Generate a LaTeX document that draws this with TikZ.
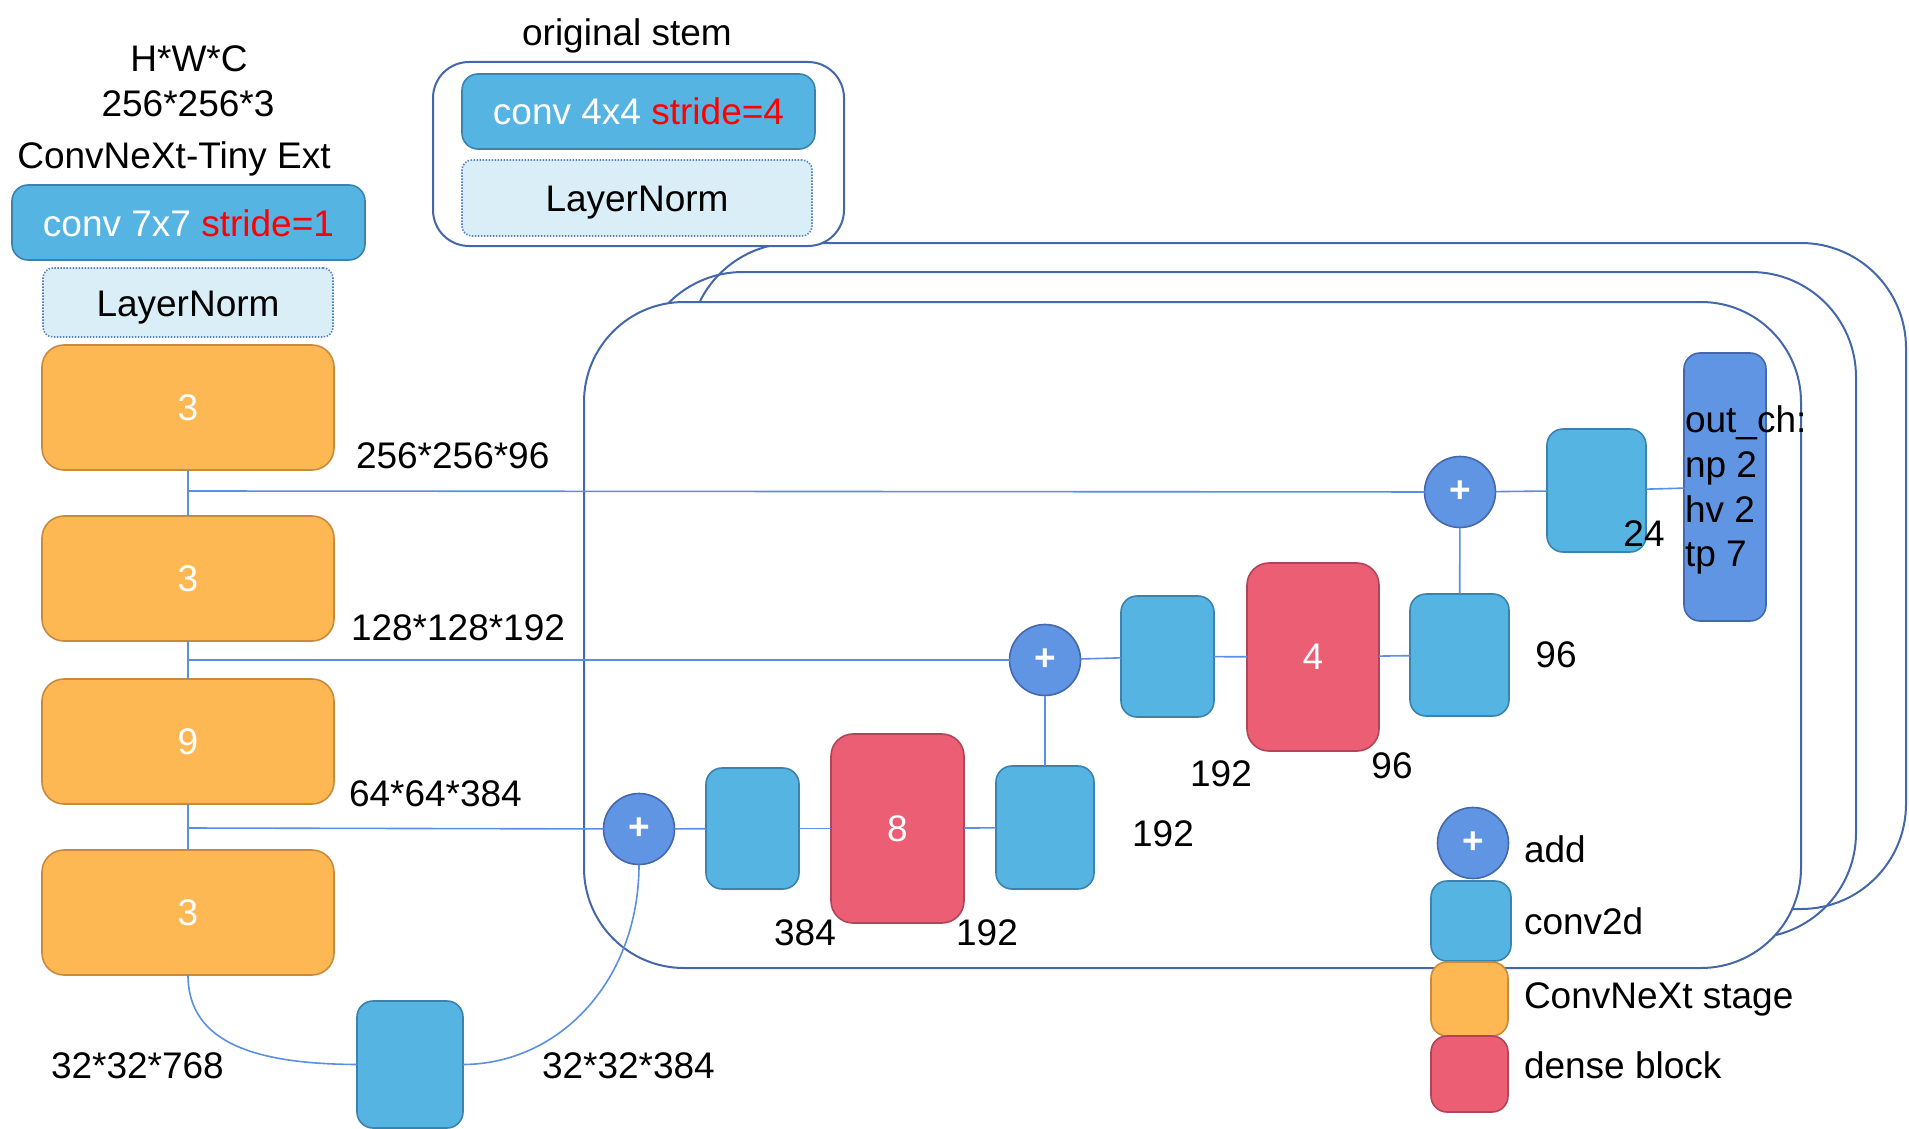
\documentclass[tikz,border=0pt]{standalone}
\usepackage{fontspec}
\setmainfont{Liberation Sans}
\definecolor{convfill}{HTML}{56B4E3}
\definecolor{convdraw}{HTML}{3A83AE}
\definecolor{stfill}{HTML}{FDB854}
\definecolor{stdraw}{HTML}{C98A3C}
\definecolor{dnfill}{HTML}{EB5E73}
\definecolor{dndraw}{HTML}{B0455A}
\definecolor{addfill}{HTML}{5F95E3}
\definecolor{adddraw}{HTML}{4567AE}
\definecolor{lnfill}{HTML}{DAEEF8}
\definecolor{lndraw}{HTML}{5A86C6}
\definecolor{framec}{HTML}{4467A9}
\definecolor{connc}{HTML}{5B8FE2}
\definecolor{strc}{HTML}{FF0000}
\tikzset{
  every node/.style={font=\fontsize{37}{45}\selectfont, inner sep=0pt, outer sep=0pt},
  box/.style={draw, line width=1.6pt, rounded corners=16pt},
  conv/.style={box, fill=convfill, draw=convdraw},
  stage/.style={box, fill=stfill, draw=stdraw, rounded corners=22pt, text=white},
  dense/.style={box, fill=dnfill, draw=dndraw, rounded corners=22pt, text=white},
  addop/.style={circle, draw=adddraw, fill=addfill, line width=1.6pt, minimum size=71pt, text=white, font=\fontsize{37}{45}\selectfont\bfseries},
  outbox/.style={box, fill=addfill, draw=adddraw},
  lnorm/.style={box, fill=lnfill, draw=lndraw, dash pattern=on 1.5pt off 1.5pt, rounded corners=10pt},
  lbl/.style={text height=27pt, text depth=0pt},
  conn/.style={draw=connc, line width=1.6pt},
  framebox/.style={draw=framec, line width=2pt, rounded corners=105pt},
  sz/.style 2 args={minimum width=#1, minimum height=#2},
}
\begin{document}
\begin{tikzpicture}[x=1pt,y=-1pt]
\useasboundingbox (0,0) rectangle (1909,1129);
% stacked frames
\draw[framebox] (689,243) rectangle (1906,909);
\draw[framebox] (638,272) rectangle (1856,938);
\draw[framebox, fill=white, rounded corners=100pt] (584,302) rectangle (1801,968);
% original stem box
\draw[framebox, fill=white, rounded corners=36pt] (433,62) rectangle (844,246);
\node[lbl] (stemt) at (627,32) {original stem};
\node[conv, lbl, sz={353}{75}, text=white] (c4) at (638.5,111.5) {conv 4x4 {\color{strc}stride=4}};
\node[lnorm, lbl, sz={350}{76}] (ln2) at (637,198) {LayerNorm};
% left column
\node[lbl] (t1) at (189,58) {H*W*C};
\node[lbl] (t2) at (188,103) {256*256*3};
\node[lbl] (t3) at (174,155) {ConvNeXt-Tiny Ext};
\node[conv, lbl, sz={353}{75}, text=white] (c7) at (188.5,222.5) {conv 7x7 {\color{strc}stride=1}};
\node[lnorm, lbl, sz={290}{69}] (ln1) at (188,302.5) {LayerNorm};
\node[stage, sz={292}{125}] (s1) at (188,407.5) {3};
\node[stage, sz={292}{125}] (s2) at (188,578.5) {3};
\node[stage, sz={292}{125}] (s3) at (188,741.5) {9};
\node[stage, sz={292}{125}] (s4) at (188,912.5) {3};
\node[lbl, anchor=west] (l1) at (356,455) {256*256*96};
\node[lbl, anchor=west] (l2) at (351,627) {128*128*192};
\node[lbl, anchor=west] (l3) at (349,793) {64*64*384};
\node[lbl, anchor=west] (l4) at (51,1065) {32*32*768};
\node[lbl, anchor=west] (l5) at (542,1065) {32*32*384};
\node[conv, sz={106}{127}] (bc) at (410,1064.5) {};
\coordinate (j1) at (188,491);
\coordinate (j2) at (188,660);
\coordinate (j3) at (188,828);
% decoder
\node[addop] (p1) at (639,829) {+};
\node[conv, sz={93}{121}] (cA) at (752.5,828.5) {};
\node[dense, sz={133}{189}] (d8) at (897.5,828.5) {8};
\node[conv, sz={98}{123}] (cB) at (1045,827.5) {};
\node[lbl] (n384) at (805,932) {384};
\node[lbl] (n192a) at (987,932) {192};
\node[lbl] (n192b) at (1163,833) {192};
\node[addop] (p2) at (1045,660) {+};
\node[conv, sz={93}{121}] (cC) at (1167.5,656.5) {};
\node[dense, sz={132}{188}] (d4) at (1313,657) {4};
\node[conv, sz={99}{122}] (cD) at (1459.5,655) {};
\node[lbl] (n192c) at (1221,773) {192};
\node[lbl] (n96a) at (1392,765) {96};
\node[lbl] (n96b) at (1556,654) {96};
\node[addop] (p3) at (1460,492) {+};
\node[conv, sz={99}{123}] (cE) at (1596.5,490.5) {};
\node[outbox, sz={82}{268}] (out) at (1725,487) {};
\node[lbl] (n24) at (1644,533) {24};
\node[lbl, anchor=west] (o1) at (1685,419) {out\_ch:};
\node[lbl, anchor=west] (o2) at (1685,464) {np 2};
\node[lbl, anchor=west] (o3) at (1685,509) {hv 2};
\node[lbl, anchor=west] (o4) at (1685,553) {tp 7};
% legend
\node[addop] (lp) at (1473,843) {+};
\node[conv, sz={80}{80}] (lc) at (1471,921) {};
\node[stage, sz={77}{74}, rounded corners=16pt] (lo) at (1469.5,999) {};
\node[dense, sz={77}{76}, rounded corners=16pt] (lr) at (1469.5,1074) {};
\node[lbl, anchor=west] (la) at (1524,849) {add};
\node[lbl, anchor=west] (lb) at (1524,921) {conv2d};
\node[lbl, anchor=west] (lcn) at (1524,995) {ConvNeXt stage};
\node[lbl, anchor=west] (ld) at (1524,1065) {dense block};
% connectors
\draw[conn] (s1) -- (s2);
\draw[conn] (s2) -- (s3);
\draw[conn] (s3) -- (s4);
\draw[conn] (j1) -- (p3);
\draw[conn] (j2) -- (p2);
\draw[conn] (j3) -- (p1);
\draw[conn] (p1) -- (cA);
\draw[conn] (cA) -- (d8);
\draw[conn] (d8) -- (cB);
\draw[conn] (cB) -- (p2);
\draw[conn] (p2) -- (cC);
\draw[conn] (cC) -- (d4);
\draw[conn] (d4) -- (cD);
\draw[conn] (cD) -- (p3);
\draw[conn] (p3) -- (cE);
\draw[conn] (cE) -- (out);
\draw[conn] (s4.south) .. controls (188,1045) and (260,1064) .. (bc.west);
\draw[conn] (bc.east) .. controls (560,1064) and (639,980) .. (p1.south);
\end{tikzpicture}
\end{document}
